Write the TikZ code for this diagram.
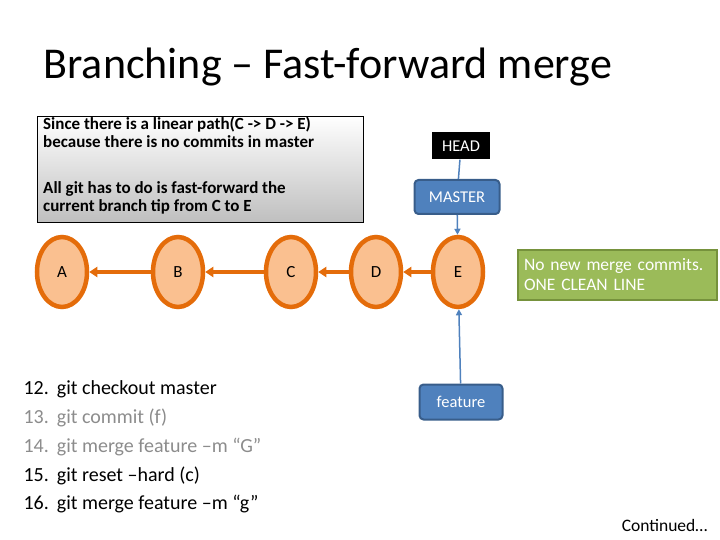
\documentclass[tikz,border=0pt]{standalone}
\usepackage{fontspec}
\setmainfont{Carlito}
\usetikzlibrary{arrows.meta,shapes.geometric}
\definecolor{org}{RGB}{228,108,10}
\definecolor{orgl}{RGB}{250,192,144}
\definecolor{blu}{RGB}{79,129,189}
\definecolor{blud}{RGB}{56,93,138}
\definecolor{grn}{RGB}{155,187,89}
\definecolor{grnd}{RGB}{118,146,60}
\begin{document}
\begin{tikzpicture}[x=1pt,y=-1pt,
 commit/.style={ellipse,draw=org,line width=4.5pt,fill=orgl,minimum width=50pt,minimum height=70pt,inner sep=0pt,font=\fontsize{17}{17}\selectfont},
 br/.style={draw=blud,line width=2pt,fill=blu,rounded corners=4pt,text=white,font=\fontsize{16.5}{16.5}\selectfont,inner sep=0pt},
 oarr/.style={draw=org,line width=4pt,-{Triangle[length=8pt,width=10pt]}},
 barr/.style={draw=blu,line width=1.5pt,-{Triangle[length=6pt,width=6pt]}},
 li/.style={anchor=base west,font=\fontsize{20}{20}\selectfont}]
\useasboundingbox (0,0) rectangle (720,540);
\node[anchor=west,font=\fontsize{44}{44}\selectfont] (t) at (40,67) {Branching – Fast-forward merge};
\shade[top color=white,bottom color=black!25] (37,116) rectangle (363,222);
\draw[line width=0.8pt] (37,116) rectangle (363,222);
\node[anchor=north west,align=left,font=\bfseries\fontsize{17}{18}\selectfont,inner sep=0pt] (g1) at (43,117) {Since there is a linear path(C -> D -> E)\\because there is no commits in master};
\node[anchor=north west,align=left,font=\bfseries\fontsize{17}{18}\selectfont,inner sep=0pt] (g2) at (43,181) {All git has to do is fast-forward the\\current branch tip from C to E};
\node[fill=black,text=white,minimum width=58pt,minimum height=27pt,inner sep=0pt,font=\fontsize{16.5}{16.5}\selectfont] (head) at (461,146) {HEAD};
\node[br,minimum width=85pt,minimum height=34pt] (master) at (457,197) {MASTER};
\node[commit] (A) at (62,272) {A};
\node[commit] (B) at (178,272) {B};
\node[commit] (C) at (291,272) {C};
\node[commit] (D) at (376,272) {D};
\node[commit] (E) at (458,272) {E};
\draw[oarr] (B) -- (A);
\draw[oarr] (C) -- (B);
\draw[oarr] (D) -- (C);
\draw[oarr] (E) -- (D);
\draw[blu,line width=1.5pt] (head) -- (master);
\draw[barr] (master) -- (E);
\node[br,minimum width=83pt,minimum height=35pt] (feat) at (461,402) {feature};
\draw[barr] (feat) -- (E);
\node[draw=grnd,line width=2pt,fill=grn,text=white,minimum width=197pt,minimum height=50pt,align=left,anchor=west,inner sep=6pt,font=\fontsize{17.5}{20}\selectfont,text width=187pt] (note) at (517,275) {No new merge commits.\\ONE CLEAN LINE};
\node[li] (n12) at (20,394) {12.\hspace{8pt}git checkout master};
\node[li,text=black!45] (n13) at (20,423) {13.\hspace{8pt}git commit (f)};
\node[li,text=black!45] (n14) at (20,452) {14.\hspace{8pt}git merge feature –m “G”};
\node[li] (n15) at (20,481) {15.\hspace{8pt}git reset –hard (c)};
\node[li] (n16) at (20,509) {16.\hspace{8pt}git merge feature –m “g”};
\node[anchor=base east,font=\fontsize{17.5}{17.5}\selectfont] (cont) at (711,531) {Continued…};
\end{tikzpicture}
\end{document}
